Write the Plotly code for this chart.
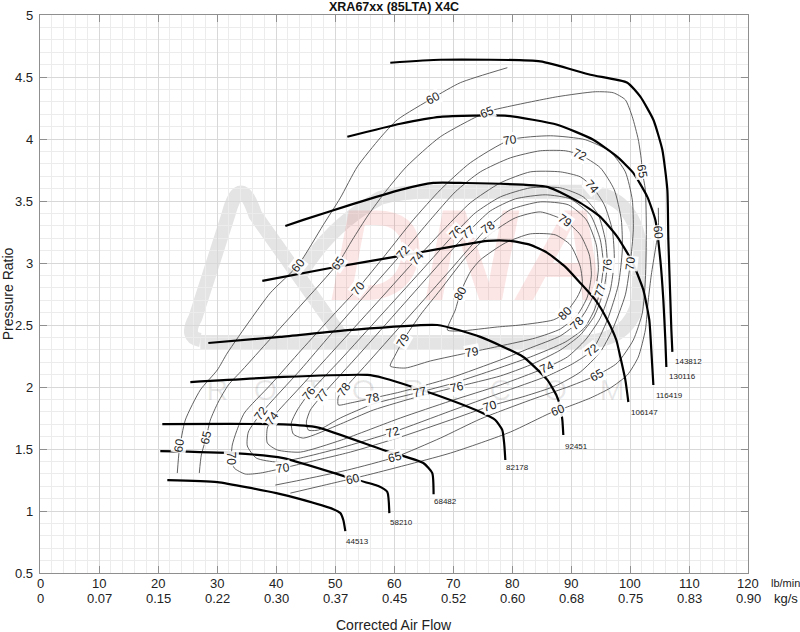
import plotly.graph_objects as go

# ---------------- speed lines (lb/min, pressure ratio) ----------------
sl_44513_x = [21.58, 30.05, 40.05, 44.12, 49.71, 50.90, 51.41, 51.75]
sl_44513_y = [1.249, 1.233, 1.144, 1.096, 1.015, 0.983, 0.927, 0.838]
sl_58210_x = [20.39, 32.76, 41.24, 52.59, 57.34, 58.87, 59.21]
sl_58210_y = [1.483, 1.467, 1.427, 1.266, 1.201, 1.153, 0.983]
sl_68482_x = [20.73, 41.24, 47.00, 58.19, 64.97, 66.49, 66.71]
sl_68482_y = [1.701, 1.699, 1.675, 1.492, 1.387, 1.306, 1.136]
sl_82178_x = [25.48, 41.24, 55.48, 58.19, 61.07, 69.55, 74.63, 77.17, 78.36, 78.70, 78.87]
sl_82178_y = [2.040, 2.081, 2.097, 2.073, 2.032, 1.895, 1.798, 1.734, 1.653, 1.532, 1.411]
sl_92451_x = [28.53, 40.73, 52.59, 67.34, 74.63, 81.92, 85.99, 87.51, 88.19, 88.53, 88.70]
sl_92451_y = [2.355, 2.404, 2.460, 2.500, 2.404, 2.242, 2.057, 1.935, 1.839, 1.734, 1.613]
sl_106147_x = [37.68, 49.21, 61.07, 75.82, 79.72, 83.11, 85.99, 89.04, 91.58, 94.12, 96.16, 97.68, 98.36, 99.21, 99.72]
sl_106147_y = [2.856, 2.960, 3.057, 3.178, 3.178, 3.146, 3.082, 2.969, 2.839, 2.702, 2.541, 2.379, 2.242, 2.057, 1.879]
sl_116419_x = [41.58, 44.63, 52.59, 61.07, 66.66, 71.24, 85.99, 91.58, 94.97, 97.85, 100.39, 102.26, 103.27, 103.61, 103.96]
sl_116419_y = [3.299, 3.348, 3.469, 3.590, 3.646, 3.646, 3.614, 3.485, 3.372, 3.211, 3.009, 2.783, 2.541, 2.299, 2.016]
sl_130116_x = [52.09, 61.07, 67.85, 79.21, 87.68, 93.78, 97.85, 100.56, 102.94, 104.29, 105.14, 105.65, 105.99, 106.16]
sl_130116_y = [4.018, 4.123, 4.179, 4.187, 4.115, 3.994, 3.856, 3.727, 3.533, 3.348, 3.025, 2.702, 2.379, 2.161]
sl_143812_x = [59.37, 67.85, 84.80, 93.28, 99.55, 101.75, 103.96, 105.48, 106.33, 106.50, 106.84, 107.01, 107.18]
sl_143812_y = [4.615, 4.639, 4.626, 4.518, 4.454, 4.341, 4.155, 3.913, 3.590, 3.186, 2.702, 2.460, 2.283]

speed_names = ["44513", "58210", "68482", "82178", "92451", "106147", "116419", "130116", "143812"]
speed_x = [sl_44513_x, sl_58210_x, sl_68482_x, sl_82178_x, sl_92451_x, sl_106147_x, sl_116419_x, sl_130116_x, sl_143812_x]
speed_y = [sl_44513_y, sl_58210_y, sl_68482_y, sl_82178_y, sl_92451_y, sl_106147_y, sl_116419_y, sl_130116_y, sl_143812_y]
speed_lab_x = [51.6, 59.0, 66.5, 78.7, 88.7, 99.9, 104.0, 106.3, 107.3]
speed_lab_y = [0.757, 0.910, 1.080, 1.354, 1.524, 1.798, 1.935, 2.081, 2.202]

# ---------------- efficiency contours ----------------
eff60a_x = [23.27, 23.61, 24.63, 27.17, 30.05, 31.75, 35.65, 39.04, 43.78, 48.02, 50.90, 53.78, 57.68, 60.56, 66.66, 71.24, 79.21]
eff60a_y = [1.306, 1.492, 1.734, 1.976, 2.137, 2.274, 2.541, 2.759, 2.985, 3.308, 3.525, 3.776, 4.010, 4.155, 4.333, 4.454, 4.575]
eff60b_x = [42.43, 50.39, 55.48, 69.55, 79.72, 86.50, 89.38, 93.28, 96.67, 99.55, 101.41, 102.60, 103.10, 103.61, 104.29, 104.80, 104.80]
eff60b_y = [1.144, 1.233, 1.290, 1.467, 1.637, 1.790, 1.839, 1.911, 1.992, 2.097, 2.242, 2.460, 2.702, 2.904, 3.106, 3.267, 3.445]
eff65_x = [27.00, 27.34, 28.19, 28.87, 30.22, 31.92, 34.29, 38.87, 44.12, 50.56, 52.93, 55.65, 58.53, 62.09, 67.85, 75.82, 79.21,
           87.68, 94.12, 97.17, 99.21, 100.39, 101.41, 101.92, 102.09, 102.60, 102.77, 102.60, 102.09, 100.56, 97.85, 94.46,
           89.89, 83.11, 74.63, 67.85, 60.22, 52.09, 44.12, 39.88]
eff65_y = [1.306, 1.451, 1.596, 1.734, 1.879, 2.016, 2.137, 2.379, 2.654, 3.001, 3.186, 3.388, 3.574, 3.776, 4.018, 4.220, 4.260,
           4.341, 4.381, 4.373, 4.316, 4.179, 3.994, 3.832, 3.735, 3.590, 3.267, 2.864, 2.597, 2.379, 2.194, 2.097,
           2.008, 1.895, 1.742, 1.588, 1.435, 1.330, 1.249, 1.209]
eff70_x = [34.80, 32.93, 32.43, 32.59, 33.27, 34.63, 39.04, 44.29, 49.71, 53.95, 58.53, 63.27, 67.85, 72.93, 79.72, 86.50, 92.43,
           96.67, 99.21, 100.39, 100.56, 100.06, 99.21, 97.00, 94.97, 91.58, 87.34, 82.26, 76.33, 69.55, 61.07, 52.59, 44.12,
           41.24, 37.34, 34.80]
eff70_y = [1.298, 1.346, 1.419, 1.532, 1.637, 1.790, 2.016, 2.298, 2.581, 2.799, 3.065, 3.348, 3.590, 3.808, 3.994, 4.026, 3.994,
           3.897, 3.735, 3.509, 3.267, 3.001, 2.743, 2.460, 2.283, 2.121, 2.008, 1.927, 1.847, 1.734, 1.596, 1.475, 1.379,
           1.346, 1.306, 1.298]
eff72_x = [40.22, 36.66, 35.14, 35.31, 37.51, 44.12, 49.21, 55.14, 61.58, 66.16, 70.39, 74.63, 79.72, 84.80, 89.04, 91.58, 94.97,
           97.34, 98.53, 98.70, 98.02, 96.16, 93.62, 90.23, 86.00, 78.02, 69.55, 59.88, 50.90, 44.12, 40.22]
eff72_y = [1.395, 1.427, 1.524, 1.637, 1.790, 2.137, 2.420, 2.743, 3.090, 3.348, 3.574, 3.735, 3.848, 3.905, 3.905, 3.872, 3.768,
           3.590, 3.348, 3.106, 2.823, 2.541, 2.298, 2.186, 2.089, 1.952, 1.806, 1.637, 1.508, 1.427, 1.395]
eff74_x = [44.12, 40.22, 38.53, 38.53, 39.37, 44.12, 50.90, 57.68, 63.95, 68.70, 72.93, 78.02, 83.11, 88.19, 91.58, 93.62, 95.65,
           97.00, 97.34, 96.67, 94.97, 92.43, 89.38, 86.00, 78.02, 69.55, 61.07, 51.07, 44.12]
eff74_y = [1.475, 1.492, 1.548, 1.669, 1.750, 2.000, 2.355, 2.710, 3.041, 3.283, 3.485, 3.646, 3.735, 3.735, 3.695, 3.614, 3.469,
           3.267, 3.025, 2.783, 2.557, 2.379, 2.242, 2.161, 2.016, 1.887, 1.750, 1.572, 1.475]
eff76_x = [44.63, 42.93, 42.59, 43.61, 45.65, 50.90, 57.68, 64.46, 70.56, 73.78, 78.02, 83.11, 88.19, 92.09, 94.63, 95.82, 96.16,
           95.48, 93.96, 91.58, 88.19, 83.11, 78.02, 70.56, 64.46, 56.49, 50.90, 44.63]
eff76_y = [1.588, 1.621, 1.709, 1.814, 1.952, 2.218, 2.573, 2.928, 3.251, 3.404, 3.533, 3.606, 3.606, 3.533, 3.388, 3.186, 2.985,
           2.767, 2.573, 2.420, 2.298, 2.178, 2.089, 2.000, 1.927, 1.814, 1.701, 1.588]
eff77_x = [47.17, 45.48, 45.14, 45.82, 47.85, 54.29, 61.07, 67.85, 72.60, 76.33, 80.56, 85.65, 89.89, 93.28, 94.97, 95.48, 94.97,
           93.96, 92.26, 89.04, 83.11, 76.33, 69.55, 64.46, 56.49, 50.90, 47.17]
eff77_y = [1.653, 1.653, 1.718, 1.814, 1.935, 2.274, 2.638, 3.001, 3.251, 3.420, 3.517, 3.550, 3.517, 3.388, 3.186, 2.985, 2.783,
           2.621, 2.476, 2.363, 2.242, 2.129, 2.024, 1.960, 1.863, 1.750, 1.653]
eff78_x = [50.56, 50.56, 51.58, 55.99, 62.77, 69.55, 75.99, 79.72, 84.80, 89.55, 92.60, 94.29, 94.63, 93.96, 92.60, 91.07, 88.19,
           83.11, 78.02, 69.55, 61.07, 56.49, 52.59, 50.56]
eff78_y = [1.855, 1.919, 1.984, 2.218, 2.581, 2.944, 3.291, 3.429, 3.493, 3.469, 3.348, 3.146, 2.944, 2.759, 2.621, 2.517, 2.412,
           2.315, 2.218, 2.073, 1.960, 1.911, 1.871, 1.855]
eff79_x = [59.37, 60.22, 61.58, 64.46, 67.85, 72.09, 76.33, 80.56, 84.80, 89.04, 91.58, 93.11, 93.45, 92.77, 91.07, 88.19, 83.96,
           78.02, 73.26, 66.16, 61.92, 59.37]
eff79_y = [2.169, 2.258, 2.379, 2.581, 2.783, 3.041, 3.235, 3.364, 3.412, 3.340, 3.227, 3.065, 2.904, 2.726, 2.581, 2.468, 2.395,
           2.331, 2.283, 2.210, 2.153, 2.169]
eff80_x = [69.04, 70.39, 71.24, 72.93, 74.63, 78.87, 83.11, 87.34, 89.89, 91.58, 91.92, 91.07, 89.04, 87.00, 81.41, 77.51, 71.24, 69.04]
eff80_y = [2.460, 2.621, 2.759, 2.928, 3.025, 3.162, 3.235, 3.227, 3.146, 2.969, 2.823, 2.726, 2.597, 2.541, 2.500, 2.484, 2.452, 2.460]

contour_x = [eff60a_x, eff60b_x, eff65_x, eff70_x, eff72_x, eff74_x, eff76_x, eff77_x, eff78_x, eff79_x, eff80_x]
contour_y = [eff60a_y, eff60b_y, eff65_y, eff70_y, eff72_y, eff74_y, eff76_y, eff77_y, eff78_y, eff79_y, eff80_y]

# contour labels: value, x, y, angle
lab_val = ["60", "60", "60", "60", "60", "60",
           "65", "65", "65", "65", "65", "65",
           "70", "70", "70", "70", "70", "70",
           "72", "72", "72", "72", "72",
           "74", "74", "74", "74",
           "76", "76", "76", "76",
           "77", "77", "77", "77",
           "78", "78", "78", "78",
           "79", "79", "79",
           "80", "80"]
lab_x = [66.66, 43.78, 23.61, 53.10, 87.85, 104.80,
         75.82, 50.56, 28.19, 102.09, 94.46, 60.22,
         79.72, 53.95, 32.43, 41.24, 76.33, 100.06,
         91.58, 61.58, 37.51, 59.88, 93.62,
         93.62, 63.95, 39.37, 86.00,
         70.56, 45.65, 70.73, 96.16,
         72.60, 47.85, 64.46, 94.97,
         75.99, 51.58, 56.49, 91.07,
         89.04, 61.58, 73.26,
         71.24, 89.04]
lab_y = [4.333, 2.985, 1.532, 1.257, 1.814, 3.243,
         4.220, 3.001, 1.596, 3.735, 2.097, 1.435,
         3.994, 2.799, 1.419, 1.346, 1.847, 3.001,
         3.872, 3.090, 1.790, 1.637, 2.298,
         3.614, 3.041, 1.750, 2.161,
         3.251, 1.952, 2.000, 2.985,
         3.251, 1.935, 1.960, 2.783,
         3.291, 1.984, 1.911, 2.517,
         3.340, 2.379, 2.283,
         2.759, 2.597]
lab_ang = [-28, -52, -80, -13, -22, 85,
           -22, -55, -78, 80, -30, -15,
           -8, -52, 90, -8, -18, -83,
           25, -50, -55, -15, -40,
           50, -50, -55, -25,
           -48, -52, -12, -88,
           -40, -52, -12, -72,
           -35, -55, -10, -45,
           35, -60, -10,
           -62, -45]

# ---------------- axes ----------------
x_ticks = [0, 10, 20, 30, 40, 50, 60, 70, 80, 90, 100, 110, 120]
x_ticks_lbmin = ["0", "10", "20", "30", "40", "50", "60", "70", "80", "90", "100", "110", "120"]
x_ticks_kgs = ["0", "0.07", "0.15", "0.22", "0.30", "0.37", "0.45", "0.52", "0.60", "0.68", "0.75", "0.83", "0.90"]
y_ticks = [0.5, 1, 1.5, 2, 2.5, 3, 3.5, 4, 4.5, 5]
y_tick_text = ["0.5", "1", "1.5", "2", "2.5", "3", "3.5", "4", "4.5", "5"]

# watermark letters
wm_letters = ["R", "O", "T", "O", "R", ".", "C", "O", "M"]
wm_x = [30.05, 38.19, 46.32, 54.80, 63.27, 70.39, 78.02, 87.34, 97.00]
wm_y = [1.952] * 9

FONT = "Liberation Sans, Arial, sans-serif"
TXT = "#222222"
fig = go.Figure()

# watermark text (under lines)
fig.add_trace(go.Scatter(x=[72.9], y=[2.96], mode="text", text=["DNA"],
                         textfont=dict(family=FONT, size=130, color="rgba(235,70,70,0.14)", weight="bold", style="italic"),
                         hoverinfo="skip", showlegend=False))
fig.add_trace(go.Scatter(x=wm_x, y=wm_y, mode="text", text=wm_letters,
                         textfont=dict(family=FONT, size=30, color="rgba(0,0,0,0.09)"),
                         hoverinfo="skip", showlegend=False))

for cx, cy in zip(contour_x, contour_y):
    fig.add_trace(go.Scatter(x=cx, y=cy, mode="lines", line=dict(color="#505050", width=0.9, shape="spline", smoothing=0.6),
                             hoverinfo="skip", showlegend=False))

for sx, sy in zip(speed_x, speed_y):
    fig.add_trace(go.Scatter(x=sx, y=sy, mode="lines", line=dict(color="black", width=2.2, shape="spline", smoothing=0.5),
                             hoverinfo="skip", showlegend=False))

annotations = []
for v, x, y, a in zip(lab_val, lab_x, lab_y, lab_ang):
    annotations.append(dict(x=x, y=y, xref="x", yref="y", text=v, showarrow=False, textangle=a,
                            font=dict(family=FONT, size=12, color=TXT),
                            bgcolor="rgba(255,255,255,0.9)", borderpad=0))
for n, x, y in zip(speed_names, speed_lab_x, speed_lab_y):
    annotations.append(dict(x=x, y=y, xref="x", yref="y", text=n, showarrow=False, xanchor="left",
                            font=dict(family=FONT, size=8, color=TXT)))
for t, lab1, lab2 in zip(x_ticks, x_ticks_lbmin, x_ticks_kgs):
    annotations.append(dict(x=t, y=-0.018, xref="x", yref="paper", text=lab1, showarrow=False,
                            yanchor="middle", font=dict(family=FONT, size=13, color=TXT)))
    annotations.append(dict(x=t, y=-0.046, xref="x", yref="paper", text=lab2, showarrow=False,
                            yanchor="middle", font=dict(family=FONT, size=13, color=TXT)))
for t, lab in zip(y_ticks, y_tick_text):
    annotations.append(dict(x=-0.0066, y=t, xref="paper", yref="y", text=lab, showarrow=False,
                            xanchor="right", yanchor="middle", font=dict(family=FONT, size=13, color=TXT)))
annotations += [
    dict(x=1.031, y=-0.018, xref="paper", yref="paper", text="lb/min", showarrow=False, xanchor="left",
         yanchor="middle", borderpad=0, font=dict(family=FONT, size=11, color=TXT)),
    dict(x=1.0336, y=-0.046, xref="paper", yref="paper", text="kg/s", showarrow=False, xanchor="left",
         yanchor="middle", font=dict(family=FONT, size=13, color=TXT)),
    dict(x=0.5, y=-0.094, xref="paper", yref="paper", text="Corrected Air Flow", showarrow=False,
         yanchor="middle", font=dict(family=FONT, size=14, color=TXT)),
    dict(x=-0.0448, y=0.5, xref="paper", yref="paper", text="Pressure Ratio", showarrow=False, textangle=-90,
         xanchor="center", yanchor="middle", font=dict(family=FONT, size=14, color=TXT)),
    dict(x=0.5, y=1.0145, xref="paper", yref="paper", text="<b>XRA67xx (85LTA) X4C</b>", showarrow=False,
         yanchor="middle", borderpad=0, font=dict(family=FONT, size=12.5, color="#111111")),
]

wm_color = "#e4e4e4"
shapes = [
    dict(type="path", xref="x", yref="y", layer="below",
         path="M 27.17,2.379 Q 24.5,2.40 26.32,2.557 L 31.92,3.388 Q 33.95,3.75 36.49,3.388 L 51.75,2.363",
         line=dict(color=wm_color, width=14)),
    dict(type="path", xref="x", yref="y", layer="below",
         path="M 44.12,2.904 Q 49.21,3.308 57.68,3.525 Q 61.07,3.574 66.16,3.574 L 92.43,3.574 "
              "Q 100.9,3.55 101.75,3.106 L 101.41,2.702 Q 100.06,2.379 92.43,2.363 L 27.17,2.363",
         line=dict(color=wm_color, width=14)),
]

axis_common = dict(showline=True, linecolor="#8f8f8f", linewidth=1.2, mirror="ticks", ticks="inside",
                   ticklen=7, tickcolor="#8f8f8f", tickwidth=1, showgrid=True, gridcolor="#d8d8d8", gridwidth=1,
                   zeroline=False, showticklabels=False)

fig.update_layout(
    width=800, height=632,
    margin=dict(l=40, r=52, t=15, b=59),
    paper_bgcolor="white", plot_bgcolor="white",
    showlegend=False,
    annotations=annotations,
    shapes=shapes,
    xaxis=dict(range=[0, 120], tickvals=x_ticks,
               minor=dict(dtick=2, showgrid=True, gridcolor="#ececec", gridwidth=1, ticks=""),
               **axis_common),
    yaxis=dict(range=[0.5, 5], tickvals=y_ticks,
               minor=dict(dtick=0.1, showgrid=True, gridcolor="#ececec", gridwidth=1, ticks=""),
               **axis_common),
)

# remove the default page margin so the figure starts at the window's top-left corner
fig.write_html("out.html", config={"displayModeBar": False},
               post_script="document.body.style.margin='0px';")
